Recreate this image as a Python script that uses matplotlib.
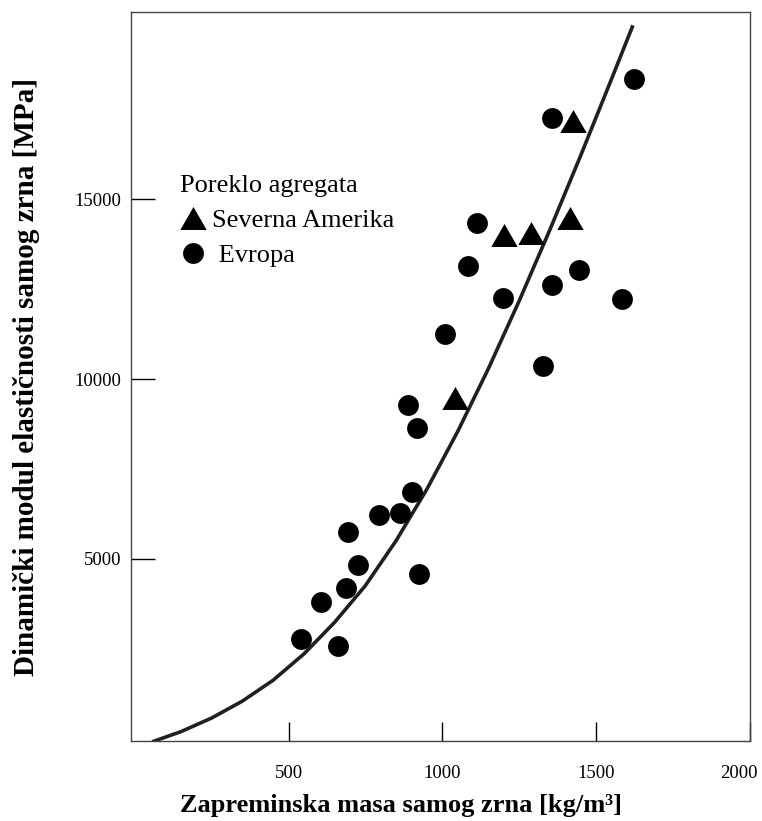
import matplotlib.pyplot as plt
import matplotlib.transforms as mtransforms
from matplotlib.lines import Line2D

# Data
evropa_x = [888, 917, 901, 793, 862, 695, 725, 923, 686, 604, 542, 660,
            1112, 1083, 1197, 1008, 1327, 1357, 1445, 1585, 1357, 1624]
evropa_y = [9280, 8640, 6860, 6220, 6280, 5750, 4830, 4580, 4190, 3810, 2780, 2580,
            14330, 13140, 12250, 11250, 10360, 12610, 13030, 12220, 17250, 18330]

amerika_x = [1041, 1200, 1288, 1415, 1425]
amerika_y = [9470, 14000, 14060, 14470, 17170]

# trend curve, points
curve_x = [57, 150, 250, 350, 450, 550, 650, 750, 850, 950, 1050, 1150,
           1250, 1350, 1450, 1550, 1620]
curve_y = [-80, 200, 580, 1050, 1630, 2360, 3240, 4260, 5510, 6940, 8540, 10290,
           12170, 14150, 16210, 18330, 19830]

x_ticks = [500, 1000, 1500, 2000]
y_ticks = [5000, 10000, 15000]

plt.rcParams['font.family'] = ['Liberation Serif', 'DejaVu Serif']

fig = plt.figure(figsize=(7.62, 8.21), dpi=100)
ax = fig.add_axes([0.172, 0.0974, 0.812, 0.888])

ink = '#231f20'
tri = [(-1, -0.87), (1, -0.87), (0, 0.87)]

ax.plot(curve_x, curve_y, color=ink, lw=2.6, solid_capstyle='butt',
        solid_joinstyle='round', zorder=2)
ax.plot(evropa_x, evropa_y, 'o', color='black', ms=15, mew=0, zorder=3)
ax.plot(amerika_x, amerika_y, ls='none', marker=tri, color='black', ms=19, mew=0, zorder=3)

ax.set_xlim(-12, 2000)
ax.set_ylim(-60, 20200)
ax.set_xticks(x_ticks)
ax.set_yticks(y_ticks)
ax.tick_params(axis='x', direction='in', length=14, width=1, pad=17, labelsize=13.5)
ax.tick_params(axis='y', direction='in', length=17, width=1, pad=7, labelsize=13.5)

# last x label sits left of its tick, as in the original
lbl = ax.get_xticklabels()[-1]
lbl.set_transform(lbl.get_transform() +
                  mtransforms.ScaledTranslation(-11 / 100, 0, fig.dpi_scale_trans))

for s in ax.spines.values():
    s.set_linewidth(1)
    s.set_color('#444444')

ax.set_xlabel('Zapreminska masa samog zrna [kg/m³]', fontsize=19, fontweight='bold',
              x=0.436, labelpad=9)
ax.set_ylabel('Dinamički modul elastičnosti samog zrna [MPa]', fontsize=21,
              fontweight='bold', labelpad=25)

handles = [Line2D([], [], ls='none', marker=tri, color='black', ms=19, mew=0),
           Line2D([], [], ls='none', marker='o', color='black', ms=15, mew=0)]
ax.legend(handles, ['Severna Amerika', ' Evropa'], title='Poreklo agregata',
          loc='upper left', bbox_to_anchor=(0.079, 0.777), frameon=False,
          fontsize=19, title_fontsize=19, alignment='left',
          handlelength=1.0, handletextpad=0.23, labelspacing=0.45,
          borderaxespad=0, borderpad=0)

fig.savefig('out.png', dpi=100)
